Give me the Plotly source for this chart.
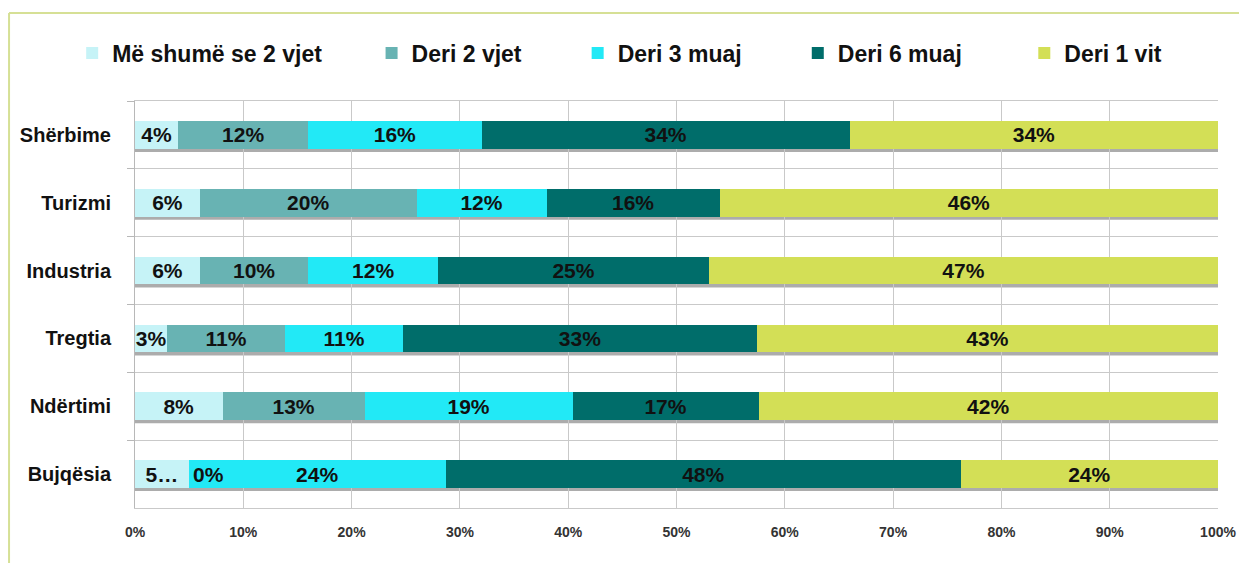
import plotly.graph_objects as go

# Sectors, top to bottom
categories = ["Shërbime", "Turizmi", "Industria", "Tregtia", "Ndërtimi", "Bujqësia"]

# Share of enterprises by duration (percent)
series_names = ["Më shumë se 2 vjet", "Deri 2 vjet", "Deri 3 muaj", "Deri 6 muaj", "Deri 1 vit"]
mbi_2_vjet = [4, 6, 6, 3, 8, 5]
deri_2_vjet = [12, 20, 10, 11, 13, 0]
deri_3_muaj = [16, 12, 12, 11, 19, 24]
deri_6_muaj = [34, 16, 25, 33, 17, 48]
deri_1_vit = [34, 46, 47, 43, 42, 24]

tick_values = [0, 10, 20, 30, 40, 50, 60, 70, 80, 90, 100]
tick_labels = ["0%", "10%", "20%", "30%", "40%", "50%", "60%", "70%", "80%", "90%", "100%"]

series_values = [mbi_2_vjet, deri_2_vjet, deri_3_muaj, deri_6_muaj, deri_1_vit]
colors = ["#c6f3f7", "#68b3b3", "#22e9f6", "#006d6a", "#d3df56"]
# spacing after each legend entry (non-breaking spaces)
legend_pad = [7, 8, 8, 9, 0]

FONT = "Liberation Sans, Arial, sans-serif"

fig = go.Figure()

for name, vals, col, pad in zip(series_names, series_values, colors, legend_pad):
    texts = []
    for cat, v in zip(categories, vals):
        if v == 0:
            texts.append("")          # zero segment labelled separately
        elif cat == "Bujqësia" and name == series_names[0]:
            texts.append(f"{v}…")     # label too wide for its segment
        else:
            texts.append(f"{v}%")
    fig.add_trace(go.Bar(
        name=name + "\u00a0" * pad,
        y=categories,
        x=vals,
        orientation="h",
        marker=dict(color=col, line=dict(width=0)),
        text=texts,
        textposition="inside",
        insidetextanchor="middle",
        textangle=0,
        insidetextfont=dict(family=FONT, size=21, color="#111111", weight="bold"),
        width=0.41,
        hoverinfo="x+y+name",
    ))

# Soft shadow under each bar
shapes = []
for cat in categories:
    shapes.append(dict(
        type="rect", layer="below",
        xref="x", yref="y",
        x0=0, x1=100,
        ysizemode="pixel", yanchor=cat, y0=-17, y1=-11,
        fillcolor="rgba(70,70,70,0.45)", line=dict(width=0),
    ))

# Outer frame (top and left edges)
shapes.append(dict(type="line", xref="paper", yref="paper",
                   x0=-0.1163, x1=1.03, y0=1.216, y1=1.216,
                   line=dict(color="#d6e095", width=2)))
shapes.append(dict(type="line", xref="paper", yref="paper",
                   x0=-0.1163, x1=-0.1163, y0=1.216, y1=-0.15,
                   line=dict(color="#d6e095", width=2)))

# Label for zero-width segments, placed just after the preceding stack
annotations = []
for i, cat in enumerate(categories):
    v = deri_2_vjet[i]
    if v == 0:
        total = sum(s[i] for s in series_values)
        start = (mbi_2_vjet[i]) / total * 100
        annotations.append(dict(
            x=start, y=cat, xref="x", yref="y",
            text=f"{v}%", showarrow=False, xanchor="left", xshift=2,
            font=dict(family=FONT, size=21, color="#111111", weight="bold"),
        ))

fig.update_layout(
    barmode="stack",
    barnorm="percent",
    width=1239, height=563,
    margin=dict(l=135, r=21, t=101, b=55, autoexpand=False),
    paper_bgcolor="white",
    plot_bgcolor="white",
    uniformtext=dict(minsize=21, mode="show"),
    legend=dict(
        orientation="h", x=-0.058, y=1.118, xanchor="left", yanchor="middle",
        traceorder="normal",
        font=dict(family=FONT, size=23, color="#111111", weight="bold"),
        bgcolor="rgba(0,0,0,0)",
        itemclick=False,
    ),
    shapes=shapes,
    annotations=annotations,
    xaxis=dict(
        range=[0, 100],
        tickvals=tick_values, ticktext=tick_labels,
        showgrid=True, gridcolor="#c9c9c9", gridwidth=1,
        zeroline=False, showline=True, linecolor="#c9c9c9", mirror=True,
        ticks="", ticklabelstandoff=11,
        tickfont=dict(family=FONT, size=14, color="#333333", weight="bold"),
        fixedrange=True,
    ),
    yaxis=dict(
        categoryorder="array", categoryarray=categories,
        autorange="reversed",
        tickson="boundaries",
        showgrid=True, gridcolor="#c9c9c9", gridwidth=1,
        showline=True, linecolor="#b8b8b8", mirror=False,
        ticks="outside", ticklen=7, tickcolor="#b8b8b8",
        ticklabelstandoff=19,
        tickfont=dict(family=FONT, size=20, color="#111111", weight="bold"),
        fixedrange=True,
    ),
)

fig.write_html("out.html")
